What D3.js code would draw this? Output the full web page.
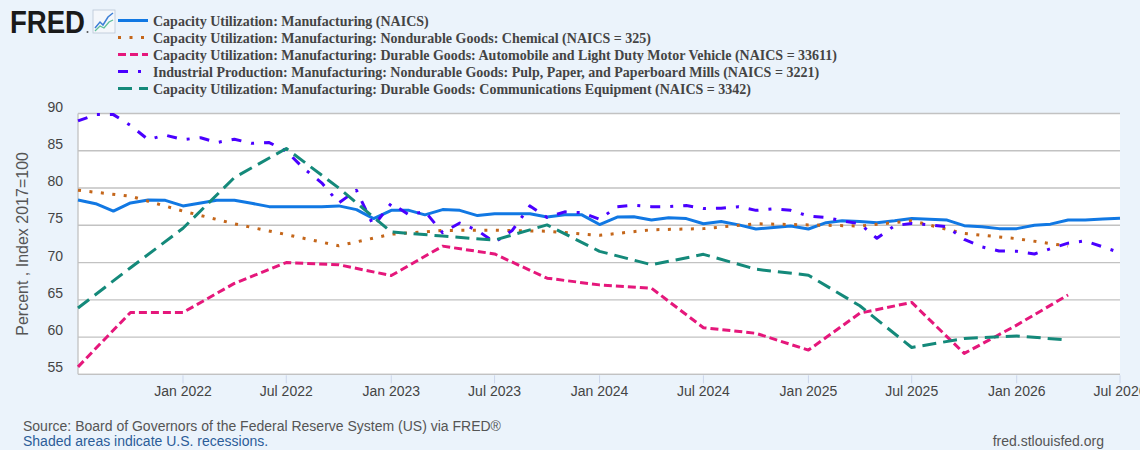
<!DOCTYPE html>
<html>
<head>
<meta charset="utf-8">
<script src="https://cdn.jsdelivr.net/npm/d3@7"></script>
<style>
  body { margin: 0; background: #ebf3fb; }
  svg { display: block; }
</style>
</head>
<body>
<div id="chart"></div>
<script>
// monthly series (Jul 2021 .. Jul 2026)
var monthly = d3.timeMonth.range(new Date(2021, 6, 1), new Date(2026, 7, 1))
// quarterly series (Jul 2021 .. Apr 2026)
var quarterly = d3.timeMonth.every(3).range(new Date(2021, 6, 1), new Date(2026, 4, 1))

var manufacturing = [78.4, 77.9, 76.9, 78.0, 78.4, 78.35, 77.6, 78.0, 78.35, 78.35, 77.95, 77.5,
  77.5, 77.5, 77.5, 77.6, 77.1, 75.9, 77.0, 77.0, 76.4, 77.1, 77.0, 76.3,
  76.55, 76.55, 76.55, 76.1, 76.4, 76.4, 75.1, 76.1, 76.15, 75.7, 76.0, 75.9,
  75.2, 75.5, 75.05, 74.5, 74.7, 74.9, 74.5, 75.35, 75.6, 75.5, 75.35, 75.6,
  75.9, 75.8, 75.7, 74.95, 74.8, 74.55, 74.55, 75.0, 75.15, 75.7, 75.7, 75.85, 75.95]
var chemical = [79.7, 78.9, 76.9, 75.2, 73.75, 72.25, 73.8, 74.3, 74.35, 74.2,
  73.65, 74.4, 74.55, 75.2, 75.05, 74.9, 75.6, 73.9, 73.2, 72.2]
var automobile = [56.0, 63.3, 63.3, 67.2, 70.0, 69.7, 68.25, 72.2, 71.15, 67.9,
  67.0, 66.55, 61.25, 60.5, 58.25, 63.2, 64.65, 57.8, 61.6, 65.65]
var pulpPaper = [89.0, 89.85, 89.85, 88.4, 86.5, 87.1, 86.5, 86.75, 86.1, 86.55, 86.0, 86.1,
  84.95, 82.6, 80.7, 78.0, 79.7, 74.9, 77.95, 76.4, 76.85, 74.0, 75.3, 74.3,
  72.7, 74.3, 77.6, 76.05, 76.8, 76.7, 75.8, 77.5, 77.7, 77.5, 77.5, 77.65,
  77.25, 77.3, 77.5, 77.0, 77.2, 77.0, 76.25, 76.05, 75.6, 75.2, 73.25, 74.95,
  75.25, 75.05, 74.8, 73.1, 72.1, 71.55, 71.5, 71.15, 71.85, 72.6, 72.9, 72.1, 71.3]
var communications = [63.9, 69.3, 74.6, 81.4, 85.3, 80.0, 74.1, 73.55, 73.0, 75.05,
  71.5, 69.7, 71.1, 69.1, 68.3, 64.2, 58.6, 59.8, 60.15, 59.6]

var yTicks = [55, 60, 65, 70, 75, 80, 85, 90]
var xTicks = d3.timeMonth.every(6).range(new Date(2022, 0, 1), new Date(2026, 7, 1))

var series = [
  {name: "Capacity Utilization: Manufacturing (NAICS)", dates: monthly, values: manufacturing, color: "#1178e3", dash: null},
  {name: "Capacity Utilization: Manufacturing: Nondurable Goods: Chemical (NAICS = 325)", dates: quarterly, values: chemical, color: "#c4661a", dash: "3,8.5"},
  {name: "Capacity Utilization: Manufacturing: Durable Goods: Automobile and Light Duty Motor Vehicle (NAICS = 33611)", dates: quarterly, values: automobile, color: "#e5177b", dash: "8,4"},
  {name: "Industrial Production: Manufacturing: Nondurable Goods: Pulp, Paper, and Paperboard Mills (NAICS = 3221)", dates: monthly, values: pulpPaper, color: "#4a00ff", dash: "10,10,3,10"},
  {name: "Capacity Utilization: Manufacturing: Durable Goods: Communications Equipment (NAICS = 3342)", dates: quarterly, values: communications, color: "#14897a", dash: "14,7"}
]

var width = 1140,
    height = 450,
    plotLeft = 78, plotRight = 1120, plotTop = 113.5, plotBottom = 374.3

var svg = d3.select("#chart").append("svg")
    .attr("width", width)
    .attr("height", height)

var x = d3.scaleTime()
  .domain([new Date(2021, 6, 1), new Date(2026, 6, 1)])
  .range([plotLeft, plotRight])
var y = d3.scaleLinear()
  .domain([55, 90])
  .range([plotBottom, plotTop])

// plot area
svg.append("rect")
  .attr("x", plotLeft).attr("y", plotTop)
  .attr("width", plotRight - plotLeft).attr("height", plotBottom - plotTop)
  .attr("fill", "white")

// gridlines + y labels
svg.selectAll(".grid").data(yTicks).enter().append("line")
  .attr("x1", plotLeft).attr("x2", plotRight)
  .attr("y1", d => y(d)).attr("y2", d => y(d))
  .attr("stroke", "#c2c2c2").attr("stroke-width", 1.3)
svg.selectAll(".ylab").data(yTicks).enter().append("text")
  .attr("x", 63).attr("y", d => y(d) - 2)
  .attr("text-anchor", "end")
  .style("font", "14px 'Liberation Sans', Arial, sans-serif")
  .attr("fill", "#444")
  .text(d => d)

// axis lines
svg.append("line").attr("x1", plotLeft).attr("x2", plotLeft).attr("y1", plotTop).attr("y2", plotBottom)
  .attr("stroke", "#c2c2c2").attr("stroke-width", 1.3)
svg.append("line").attr("x1", plotLeft).attr("x2", plotRight).attr("y1", plotBottom).attr("y2", plotBottom)
  .attr("stroke", "#c2c2c2").attr("stroke-width", 1.3)

// x ticks
var fmt = d3.timeFormat("%b %Y")
svg.selectAll(".xtick").data(xTicks).enter().append("line")
  .attr("x1", d => x(d)).attr("x2", d => x(d))
  .attr("y1", plotBottom + 1).attr("y2", plotBottom + 9)
  .attr("stroke", "#ccd6eb")
svg.selectAll(".xlab").data(xTicks).enter().append("text")
  .attr("x", d => x(d)).attr("y", 396)
  .attr("text-anchor", "middle")
  .style("font", "14px 'Liberation Sans', Arial, sans-serif")
  .attr("fill", "#444")
  .text(d => fmt(d))

// y title
svg.append("text")
  .attr("transform", "translate(28," + ((plotTop + plotBottom) / 2) + ") rotate(-90)")
  .attr("text-anchor", "middle")
  .style("font", "16px 'Liberation Sans', Arial, sans-serif")
  .attr("fill", "#555")
  .text("Percent , Index 2017=100")

// the lines
var line = d3.line()
  .x(d => x(d[0]))
  .y(d => y(d[1]))
series.forEach(function(s) {
  svg.append("path")
    .datum(d3.zip(s.dates, s.values))
    .attr("d", line)
    .attr("fill", "none")
    .attr("stroke", s.color)
    .attr("stroke-width", 3)
    .attr("stroke-linejoin", "round")
    .attr("stroke-dasharray", s.dash)
})

// legend
var legend = svg.append("g")
series.forEach(function(s, i) {
  var ly = 20.5 + i * 17
  legend.append("line")
    .attr("x1", 118).attr("x2", 148)
    .attr("y1", ly).attr("y2", ly)
    .attr("stroke", s.color).attr("stroke-width", 3)
    .attr("stroke-dasharray", s.dash)
  legend.append("text")
    .attr("x", 153).attr("y", ly + 5)
    .style("font", "bold 14px 'Liberation Serif', 'Times New Roman', serif")
    .attr("fill", "#444")
    .text(s.name)
})

// FRED logo
svg.append("text")
  .attr("x", 10).attr("y", 33)
  .attr("textLength", 75).attr("lengthAdjust", "spacingAndGlyphs")
  .style("font", "bold 32px 'Liberation Sans', Arial, sans-serif")
  .attr("fill", "#1a1a1a")
  .text("FRED")
svg.append("circle").attr("cx", 87.5).attr("cy", 32).attr("r", 1).attr("fill", "#555")
var icon = svg.append("g").attr("transform", "translate(93,10)")
icon.append("rect").attr("width", 22).attr("height", 23).attr("fill", "#f4f7fb")
  .attr("stroke", "#b9c6d6").attr("stroke-width", 0.8)
icon.append("polyline").attr("points", "2,18 7,12 10,15 15,7 20,3")
  .attr("fill", "none").attr("stroke", "#3d7fd6").attr("stroke-width", 1.5)
icon.append("polyline").attr("points", "2,21 7,16 11,18 16,12 20,10")
  .attr("fill", "none").attr("stroke", "#5fbf9a").attr("stroke-width", 1.3)

// footer
svg.append("text")
  .attr("x", 23).attr("y", 431)
  .style("font", "14px 'Liberation Sans', Arial, sans-serif")
  .attr("fill", "#555")
  .text("Source: Board of Governors of the Federal Reserve System (US) via FRED®")
svg.append("text")
  .attr("x", 23).attr("y", 446)
  .style("font", "14px 'Liberation Sans', Arial, sans-serif")
  .attr("fill", "#2b5d99")
  .text("Shaded areas indicate U.S. recessions.")
svg.append("text")
  .attr("x", 1104).attr("y", 446)
  .attr("text-anchor", "end")
  .style("font", "14px 'Liberation Sans', Arial, sans-serif")
  .attr("fill", "#555")
  .text("fred.stlouisfed.org")
</script>
</body>
</html>
